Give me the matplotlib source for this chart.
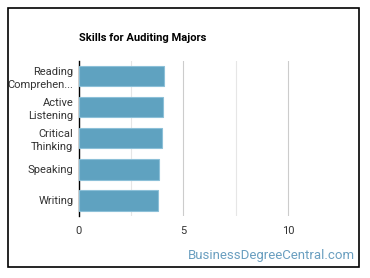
import numpy as np
import matplotlib
matplotlib.use("Agg")
import matplotlib.pyplot as plt
from matplotlib.patches import Rectangle

# skill scores
skills = ["Reading\nComprehen...", "Active\nListening", "Critical\nThinking", "Speaking", "Writing"]
scores = [4.07, 4.03, 3.98, 3.84, 3.79]
xticks = [0, 5, 10]

plt.rcParams['font.family'] = ['Roboto', 'DejaVu Sans']

fig = plt.figure(figsize=(3.7, 2.78), dpi=100)
ax = fig.add_axes([79/370, 1 - 216/278, (340 - 79)/370, (216 - 60.7)/278])

y = np.arange(len(skills))
ax.barh(y, scores, height=0.65, color="#5fa2c0", edgecolor="#8cc0d8", linewidth=0.8, zorder=3)
ax.set_ylim(len(skills) - 0.5, -0.5)
ax.set_xlim(0, 12.5)

ax.set_yticks(y)
ax.set_yticklabels(skills, fontsize=8, color="#333333", linespacing=1.3)
ax.set_xticks(xticks)
ax.set_xticklabels([str(t) for t in xticks], fontsize=8, color="#333333")
ax.set_xticks([2.5, 7.5], minor=True)
ax.tick_params(axis="both", length=0, pad=4)
ax.tick_params(axis="x", pad=7)
ax.tick_params(axis="x", which="minor", length=0)
ax.grid(axis="x", which="major", color="#cccccc", linewidth=0.8, zorder=0)
ax.grid(axis="x", which="minor", color="#e6e6e6", linewidth=0.8, zorder=0)

for s in ["top", "right", "bottom"]:
    ax.spines[s].set_visible(False)
ax.spines["left"].set_color("#000000")
ax.spines["left"].set_linewidth(1.0)

fig.text(79/370, 1 - 38/278, "Skills for Auditing Majors", fontsize=8, fontweight="bold",
         color="#000000", va="center", ha="left")
fig.text(355/370, 1 - 255/278, "BusinessDegreeCentral.com", fontsize=9.5, color="#6a9fc0",
         va="center", ha="right")

# frame around the whole chart
fig.patches.append(Rectangle((8/370, 1 - 267/278), (359 - 8)/370, (267 - 8)/278,
                             transform=fig.transFigure, fill=False, edgecolor="black", linewidth=1.2))

fig.savefig("out.png", dpi=100)
